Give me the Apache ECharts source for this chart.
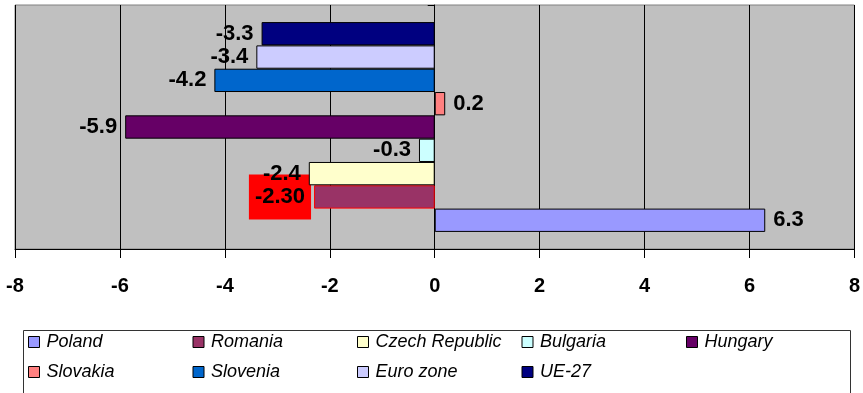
<!DOCTYPE html>
<html>
<head>
<meta charset="utf-8">
<script src="https://cdn.jsdelivr.net/npm/echarts@6/dist/echarts.min.js"></script>
<style>
    html, body { margin: 0; padding: 0; background: #fff; }
    #chart { width: 863px; height: 393px; }
</style>
</head>
<body>
<div id="chart"></div>
<script>
// series names, legend order (Poland is the bottom bar)
var countries = ['Poland', 'Romania', 'Czech Republic', 'Bulgaria', 'Hungary', 'Slovakia', 'Slovenia', 'Euro zone', 'UE-27'];
var values = [6.3, -2.30, -2.4, -0.3, -5.9, 0.2, -4.2, -3.4, -3.3];
var colors = ['#9999FF', '#993366', '#FFFFCC', '#CCFFFF', '#660066', '#FF8080', '#0066CC', '#CCCCFF', '#000080'];
var xTicks = [-8, -6, -4, -2, 0, 2, 4, 6, 8];
var legendRow1 = ['Poland', 'Romania', 'Czech Republic', 'Bulgaria', 'Hungary'];
var legendRow2 = ['Slovakia', 'Slovenia', 'Euro zone', 'UE-27'];

var FONT = 'Liberation Sans, Arial, sans-serif';

var dom = document.getElementById('chart');
var myChart = echarts.init(dom);
var option;

// echarts stacks the first series at the top, so add them last-to-first
var series = [];
for (var i = countries.length - 1; i >= 0; i--) {
    var v = values[i];
    var isRomania = countries[i] === 'Romania';
    series.push({
        name: countries[i],
        type: 'bar',
        z: isRomania ? 1 : 2,   // red label box sits under the -2.4 label
        data: [v],
        barGap: '0%',
        barCategoryGap: '14%',
        itemStyle: {
            color: colors[i],
            borderColor: isRomania ? '#FF0000' : '#000000',
            borderWidth: 1
        },
        label: {
            show: true,
            position: v < 0 ? 'left' : 'right',
            distance: isRomania ? 3 : 8,
            color: '#000',
            fontFamily: FONT,
            fontWeight: 'bold',
            fontSize: 22,
            backgroundColor: isRomania ? '#FF0000' : 'transparent',
            padding: isRomania ? [10, 6, 13, 6] : 0,
            formatter: (function (dec) {
                return function (p) { return p.value.toFixed(dec); };
            })(isRomania ? 2 : 1)
        }
    });
}

var legendText = {
    fontFamily: FONT,
    fontStyle: 'italic',
    fontSize: 18,
    color: '#000',
    width: 146,
    lineHeight: 18,
    padding: [0, 0, 0, 2]
};

option = {
    animation: false,
    backgroundColor: '#fff',
    textStyle: { fontFamily: FONT },
    grid: {
        left: 15,
        right: 8,
        top: 5,
        bottom: 144,
        show: true,
        backgroundColor: '#C0C0C0',
        borderColor: '#808080',
        borderWidth: 1
    },
    xAxis: {
        type: 'value',
        min: xTicks[0],
        max: xTicks[xTicks.length - 1],
        interval: 2,
        axisLine: { show: true, lineStyle: { color: '#000', width: 1 } },
        axisTick: { show: true, length: 9, lineStyle: { color: '#000' } },
        splitLine: { show: true, lineStyle: { color: '#000', width: 1 } },
        axisLabel: {
            color: '#000',
            fontFamily: FONT,
            fontWeight: 'bold',
            fontSize: 20,
            margin: 27
        }
    },
    yAxis: {
        type: 'category',
        data: [''],
        axisLine: { show: true, onZero: true, lineStyle: { color: '#000' } },
        axisTick: { show: true, length: 7, lineStyle: { color: '#000' } },
        axisLabel: { show: false }
    },
    legend: [{
        data: legendRow1,
        orient: 'horizontal',
        left: 28,
        top: 333,
        padding: 0,
        itemGap: 0,
        itemWidth: 11,
        itemHeight: 11,
        icon: 'rect',
        itemStyle: { borderColor: '#000', borderWidth: 1 },
        textStyle: legendText,
        selectedMode: false
    }, {
        data: legendRow2,
        orient: 'horizontal',
        left: 28,
        top: 363,
        padding: 0,
        itemGap: 0,
        itemWidth: 11,
        itemHeight: 11,
        icon: 'rect',
        itemStyle: { borderColor: '#000', borderWidth: 1 },
        textStyle: legendText,
        selectedMode: false
    }],
    graphic: [{
        type: 'rect',
        left: 21,
        top: 328,
        shape: { width: 827, height: 80 },
        style: { fill: 'none', stroke: '#333', lineWidth: 1 },
        z: -1
    }],
    series: series
};

if (option && typeof option === 'object') {
    myChart.setOption(option);
}
</script>
</body>
</html>
